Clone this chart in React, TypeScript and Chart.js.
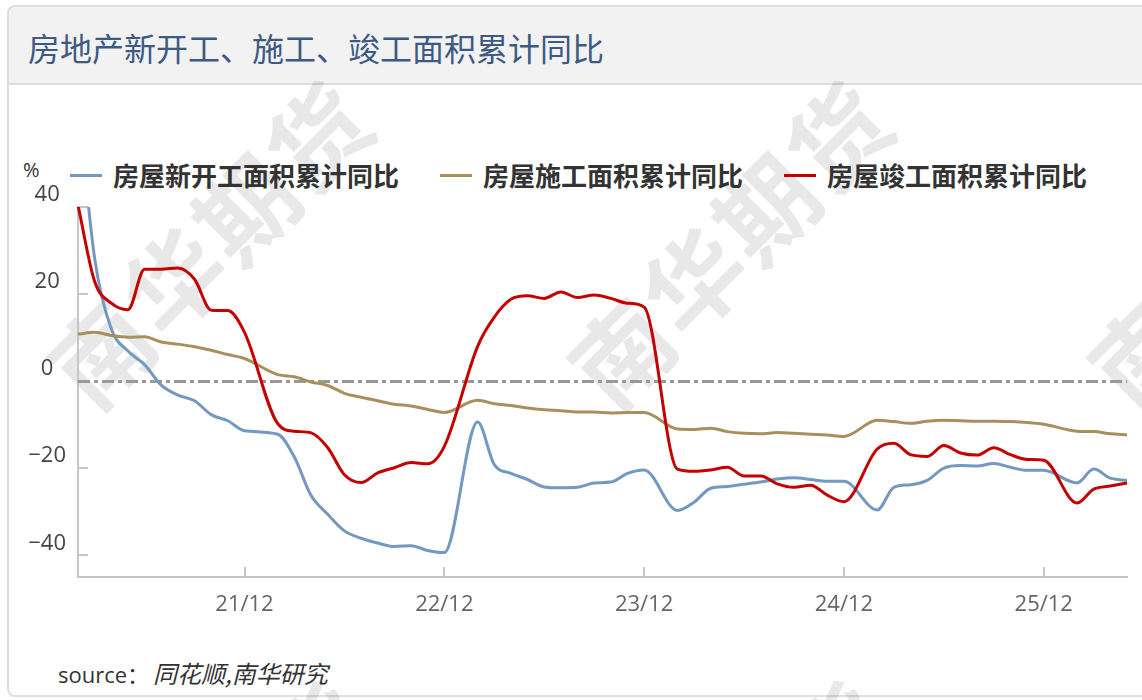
import React, { useEffect, useRef } from 'react';
import { Chart, registerables } from 'chart.js';

Chart.register(...registerables);

const TITLE = '房地产新开工、施工、竣工面积累计同比';
const UNIT = '%';
const SOURCE_LABEL = 'source：';
const SOURCE_TEXT = '同花顺,南华研究';
const WATERMARK = '南华期货';

const months = [
  '21/02', '21/03', '21/04', '21/05', '21/06', '21/07', '21/08', '21/09', '21/10', '21/11', '21/12',
  '22/01', '22/02', '22/03', '22/04', '22/05', '22/06', '22/07', '22/08', '22/09', '22/10', '22/11', '22/12',
  '23/01', '23/02', '23/03', '23/04', '23/05', '23/06', '23/07', '23/08', '23/09', '23/10', '23/11', '23/12',
  '24/01', '24/02', '24/03', '24/04', '24/05', '24/06', '24/07', '24/08', '24/09', '24/10', '24/11', '24/12',
  '25/01', '25/02', '25/03', '25/04', '25/05', '25/06', '25/07', '25/08', '25/09', '25/10', '25/11', '25/12',
  '26/01', '26/02', '26/03', '26/04', '26/05',
];

const xTickLabels = ['21/12', '22/12', '23/12', '24/12', '25/12'];
const yTickValues = [-40, -20, 0, 20, 40];

const seriesNames = ['房屋新开工面积累计同比', '房屋施工面积累计同比', '房屋竣工面积累计同比'];
const seriesColors = ['#7399c1', '#a88f5c', '#c40000'];

const newStarts = [
  64.3, 28.2, 12.0, 6.9, 3.8, -0.9, -3.2, -4.5, -7.7, -9.1, -11.4,
  null, -12.2, -17.5, -26.3, -30.6, -34.4, -36.1, -37.2, -38.0, -37.8, -38.9, -39.4,
  null, -9.4, -19.2, -21.2, -22.6, -24.3, -24.5, -24.4, -23.4, -23.2, -21.2, -20.4,
  null, -29.7, -27.8, -24.6, -24.2, -23.7, -23.2, -22.5, -22.2, -22.6, -23.0, -23.0,
  null, -29.6, -24.4, -23.8, -22.8, -20.0, -19.4, -19.5, -18.9, -19.8, -20.5, -20.5,
  null, -23.4, -20.2, -22.3, -22.8,
];

const underConstruction = [
  10.8, 11.2, 10.5, 10.1, 10.2, 9.0, 8.5, 7.9, 7.1, 6.1, 5.2,
  null, 1.5, 1.0, -0.2, -1.0, -2.8, -3.7, -4.5, -5.3, -5.7, -6.5, -7.2,
  null, -4.4, -5.2, -5.6, -6.2, -6.6, -6.8, -7.1, -7.1, -7.3, -7.2, -7.2,
  null, -11.0, -11.1, -10.8, -11.6, -12.0, -12.1, -11.8, -12.0, -12.2, -12.4, -12.7,
  null, -9.0, -9.3, -9.7, -9.2, -9.0, -9.1, -9.2, -9.2, -9.3, -9.5, -9.9,
  null, -11.5, -11.6, -12.1, -12.3,
];

const completions = [
  40.4, 22.9, 17.9, 16.4, 25.7, 25.7, 26.0, 23.4, 16.3, 16.2, 11.2,
  null, -9.8, -11.5, -11.9, -15.3, -21.5, -23.3, -21.1, -19.9, -18.7, -19.0, -15.0,
  null, 8.0, 14.7, 18.8, 19.6, 19.0, 20.5, 19.2, 19.8, 19.0, 17.9, 17.0,
  null, -20.2, -20.7, -20.4, -19.8, -21.8, -21.8, -23.6, -24.4, -23.9, -26.2, -27.7,
  null, -15.6, -14.3, -16.9, -17.3, -14.8, -16.5, -17.0, -15.3, -16.9, -18.0, -18.2,
  null, -28.0, -24.8, -24.1, -23.4,
];

const seriesValues = [newStarts, underConstruction, completions];

const watermarkCenters = [
  [208, 240], [728, 240], [1248, 240],
  [208, 840], [728, 840], [1248, 840],
];

const FONT = '"Open Sans", "Noto Sans CJK SC", sans-serif';
const CJK = '"Noto Sans CJK SC", "Noto Sans", sans-serif';

const axisDecor = {
  id: 'axisDecor',
  beforeDatasetsDraw(chart: any) {
    const { ctx, chartArea, scales } = chart;
    const x = scales.x;
    const y = scales.y;
    ctx.save();
    const y0 = Math.round(y.getPixelForValue(0)) + 0.5;
    ctx.strokeStyle = '#999999';
    ctx.lineWidth = 3;
    ctx.setLineDash([12, 4, 4, 4]);
    ctx.beginPath();
    ctx.moveTo(chartArea.left, y0);
    ctx.lineTo(chartArea.right, y0);
    ctx.stroke();
    ctx.setLineDash([]);
    ctx.strokeStyle = '#c6c6c6';
    ctx.lineWidth = 2;
    yTickValues.forEach((v) => {
      if (v === 0) return;
      const py = Math.round(y.getPixelForValue(v));
      ctx.beginPath();
      ctx.moveTo(chartArea.left, py);
      ctx.lineTo(chartArea.left + 10, py);
      ctx.stroke();
    });
    xTickLabels.forEach((l) => {
      const px = Math.round(x.getPixelForValue(months.indexOf(l)));
      ctx.beginPath();
      ctx.moveTo(px, chartArea.bottom);
      ctx.lineTo(px, chartArea.bottom - 10);
      ctx.stroke();
    });
    ctx.restore();
  },
};

function ChartCanvas() {
  const ref = useRef<HTMLCanvasElement | null>(null);
  useEffect(() => {
    if (!ref.current) return;
    const chart = new Chart(ref.current, {
      type: 'line',
      data: {
        labels: months,
        datasets: seriesNames.map((name, i) => ({
          label: name,
          data: seriesValues[i],
          borderColor: seriesColors[i],
          backgroundColor: seriesColors[i],
          borderWidth: 3,
          pointRadius: 0,
          fill: false,
          spanGaps: true,
          cubicInterpolationMode: 'monotone' as const,
          order: 2 - i,
        })),
      },
      options: {
        responsive: false,
        animation: false,
        devicePixelRatio: 1,
        layout: { padding: { left: 0, right: 14, top: 207, bottom: 63 } },
        plugins: {
          legend: { display: false },
          tooltip: { enabled: false },
          title: { display: false },
        },
        scales: {
          x: {
            type: 'category',
            grid: { display: false, drawTicks: false },
            border: { display: true, color: '#c6c6c6', width: 2 },
            ticks: {
              autoSkip: false,
              maxRotation: 0,
              minRotation: 0,
              padding: 15,
              color: '#666666',
              font: { family: FONT, size: 22 },
              callback: (_v: any, i: number) => (xTickLabels.includes(months[i]) ? months[i] : ''),
            },
            afterFit: (axis: any) => {
              axis.height = 60;
            },
          },
          y: {
            type: 'linear',
            min: -45,
            max: 40,
            afterBuildTicks: (axis: any) => {
              axis.ticks = yTickValues.map((v) => ({ value: v }));
            },
            grid: { display: false, drawTicks: false },
            border: { display: true, color: '#c6c6c6', width: 2 },
            ticks: {
              crossAlign: 'center',
              labelOffset: -12,
              padding: 12,
              color: '#444444',
              font: { family: FONT, size: 22 },
              callback: (v: any) => (Number(v) < 0 ? '\u2212' + Math.abs(Number(v)) : String(v)),
            },
            afterFit: (axis: any) => {
              axis.width = 78;
            },
          },
        },
      },
      plugins: [axisDecor],
    } as any);
    return () => chart.destroy();
  }, []);
  return (
    <canvas
      ref={ref}
      width={1142}
      height={700}
      style={{ position: 'absolute', left: 0, top: 0, width: 1142, height: 700 }}
    />
  );
}

export default function App() {
  return (
    <div
      style={{
        position: 'absolute',
        left: 0,
        top: 0,
        width: 1142,
        height: 700,
        overflow: 'hidden',
        background: '#ffffff',
        fontFamily: CJK,
      }}
    >
      <div
        style={{
          position: 'absolute',
          left: 7,
          top: 5,
          width: 1170,
          height: 692,
          border: '2px solid #dedede',
          borderRadius: 8,
          boxSizing: 'border-box',
          overflow: 'hidden',
          background: '#ffffff',
        }}
      >
        <div style={{ height: 76, background: '#f2f2f2', borderBottom: '2px solid #dcdcdc' }} />
      </div>
      {watermarkCenters.map(([cx, cy], i) => (
        <div
          key={i}
          style={{
            position: 'absolute',
            left: cx,
            top: cy,
            transform: 'translate(-50%, -50%) rotate(-45deg)',
            fontSize: 98,
            lineHeight: '98px',
            letterSpacing: 4,
            fontWeight: 700,
            color: 'rgba(0,0,0,0.09)',
            whiteSpace: 'nowrap',
            fontFamily: CJK,
          }}
        >
          {WATERMARK}
        </div>
      ))}
      <div
        style={{
          position: 'absolute',
          left: 28,
          top: 29,
          fontSize: 32,
          lineHeight: '36px',
          color: '#3c5a82',
          whiteSpace: 'nowrap',
        }}
      >
        {TITLE}
      </div>
      <div
        style={{
          position: 'absolute',
          left: 23,
          top: 158,
          fontSize: 20,
          lineHeight: '24px',
          color: '#333333',
          fontFamily: FONT,
        }}
      >
        {UNIT}
      </div>
      <div
        style={{
          position: 'absolute',
          left: 70,
          top: 160,
          height: 30,
          display: 'flex',
          alignItems: 'center',
          whiteSpace: 'nowrap',
        }}
      >
        {seriesNames.map((name, i) => (
          <div key={name} style={{ display: 'flex', alignItems: 'center', marginRight: 41 }}>
            <div style={{ width: 32, height: 3, background: seriesColors[i], marginRight: 11 }} />
            <span style={{ fontSize: 26, lineHeight: '30px', fontWeight: 700, color: '#333333' }}>{name}</span>
          </div>
        ))}
      </div>
      <div
        style={{
          position: 'absolute',
          left: 58,
          top: 659,
          fontSize: 22,
          lineHeight: '28px',
          color: '#333333',
          whiteSpace: 'nowrap',
          fontFamily: FONT,
        }}
      >
        {SOURCE_LABEL}
        <span style={{ fontStyle: 'italic', fontFamily: CJK, fontSize: 24, marginLeft: 4 }}>{SOURCE_TEXT}</span>
      </div>
      <ChartCanvas />
    </div>
  );
}
